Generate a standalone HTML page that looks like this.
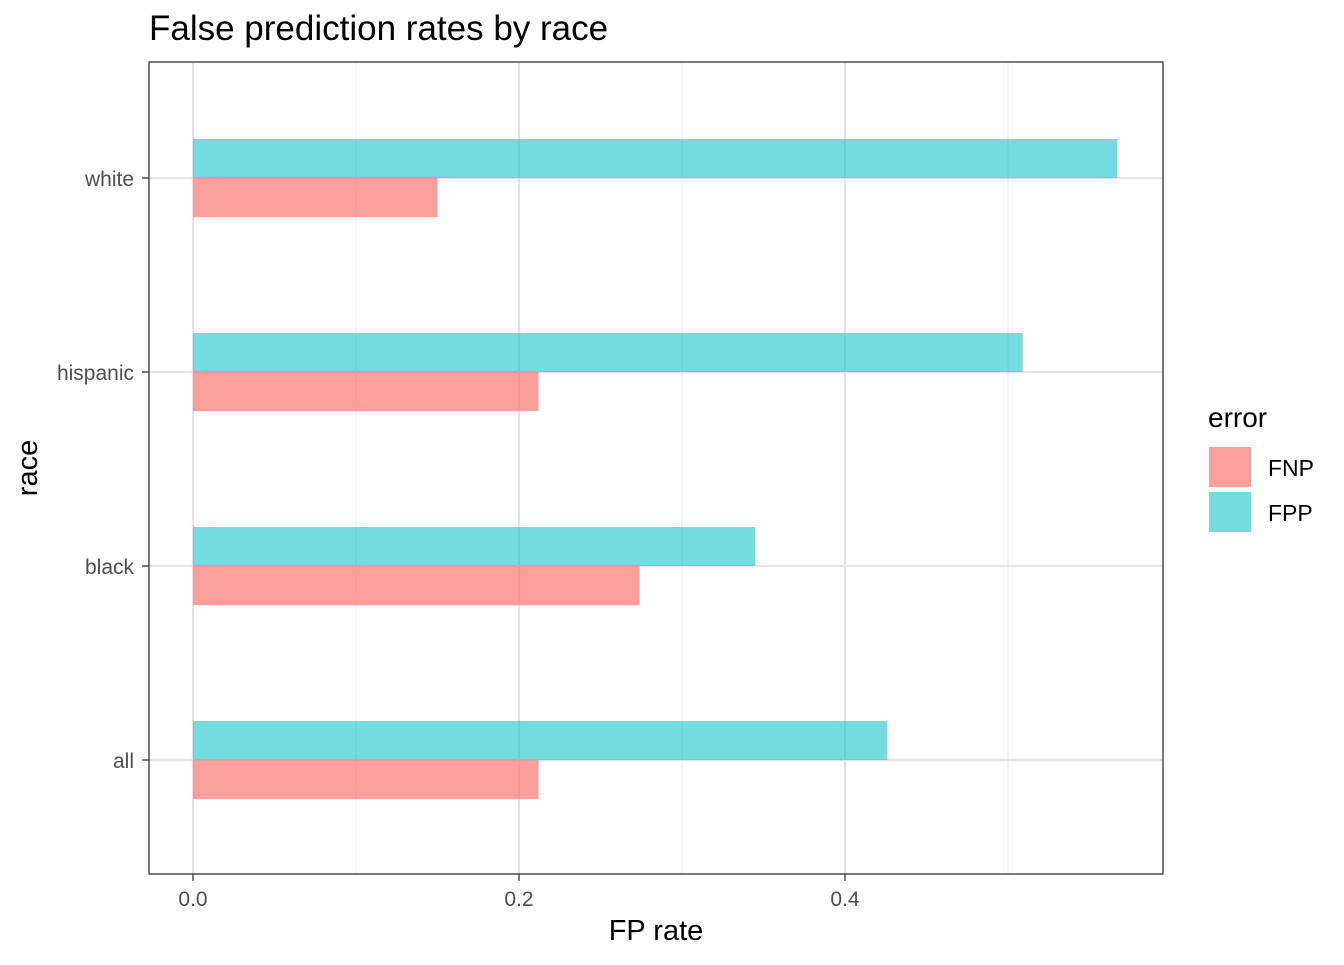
<!DOCTYPE html>
<html><head><meta charset="utf-8"><style>
body{margin:0;background:#fff;font-family:"Liberation Sans",Arial,sans-serif}
</style></head><body>
<svg width="1344" height="960" xmlns="http://www.w3.org/2000/svg" font-family="Liberation Sans, Arial, sans-serif">
<text x="149" y="40" font-size="35" fill="#000">False prediction rates by race</text>
<g id="grid"></g>
<g id="bars"></g>
<rect x="149" y="62" width="1014" height="812" fill="none" stroke="#333" stroke-width="1.3"/>
<g id="axes"></g>
<text x="656" y="940" font-size="29" text-anchor="middle">FP rate</text>
<text transform="translate(37,468) rotate(-90)" font-size="29" text-anchor="middle">race</text>
<g>
<text x="1208" y="427" font-size="28">error</text>
<rect x="1209" y="447" width="42" height="40" fill="#F8766D" fill-opacity="0.7"/>
<text x="1268" y="476" font-size="23">FNP</text>
<rect x="1209" y="492" width="42" height="40" fill="#00BFC4" fill-opacity="0.55"/>
<text x="1268" y="521" font-size="23">FPP</text>
</g>
</svg>
<script>
const categories=["all","black","hispanic","white"];
const fnpValues=[0.212,0.274,0.212,0.150];
const fppValues=[0.426,0.345,0.509,0.567];
const xTicks=[0,0.2,0.4];
const xTickLabels=["0.0","0.2","0.4"];
const xMinor=[0.1,0.3,0.5];
const NS="http://www.w3.org/2000/svg";
const xs=v=>193+v*1630;
const ys=i=>760-i*194;
const grid=document.getElementById('grid'),bars=document.getElementById('bars'),axes=document.getElementById('axes');
function mk(tag,at,p){const e=document.createElementNS(NS,tag);for(const k in at)e.setAttribute(k,at[k]);p.appendChild(e);return e;}
xMinor.forEach(v=>{const l=mk('line',{x1:xs(v),x2:xs(v),y1:62,y2:874,stroke:'#ebebeb','stroke-width':1.2},grid);

});
xTicks.forEach((v,i)=>{const l=mk('line',{x1:xs(v),x2:xs(v),y1:62,y2:874,stroke:'#e3e3e3','stroke-width':2.2},grid);


const t=mk('line',{x1:xs(v),x2:xs(v),y1:874,y2:881,stroke:'#333','stroke-width':1.3},axes);


const tx=mk('text',{x:xs(v),y:906,'font-size':21,'text-anchor':'middle',fill:'#4d4d4d'},axes);tx.textContent=xTickLabels[i];

});
categories.forEach((c,i)=>{const y=ys(i);
const l=mk('line',{x1:149,x2:1163,y1:y,y2:y,stroke:'#e3e3e3','stroke-width':2.2},grid);


const t=mk('line',{x1:142,x2:149,y1:y,y2:y,stroke:'#333','stroke-width':1.3},axes);


const tx=mk('text',{x:134,y:y+8,'font-size':21,'text-anchor':'end',fill:'#4d4d4d'},axes);tx.textContent=c;


const b1=mk('rect',{x:xs(0),y:y-39,width:xs(fppValues[i])-xs(0),height:39,fill:'#00BFC4','fill-opacity':0.55},bars);


const b2=mk('rect',{x:xs(0),y:y,width:xs(fnpValues[i])-xs(0),height:39,fill:'#F8766D','fill-opacity':0.7},bars);

});
</script>
</body></html>
